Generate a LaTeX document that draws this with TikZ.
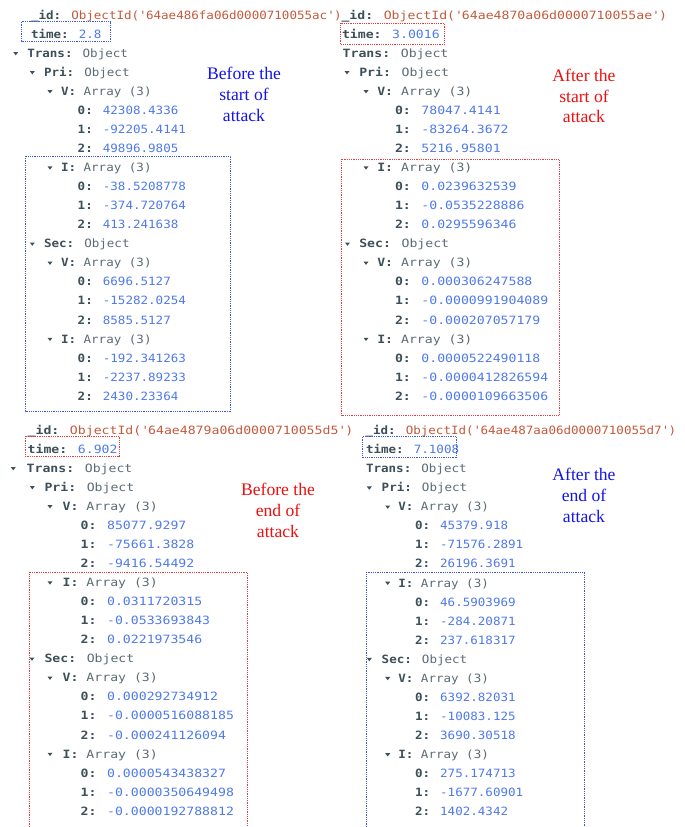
\documentclass[tikz,border=0pt]{standalone}
\usepackage{fontspec}
\newfontfamily\monoNfam[FakeStretch=1.10]{DejaVu Sans Mono}
\newfontfamily\monoWfam[FakeStretch=1.155]{DejaVu Sans Mono}
\newfontfamily\capfam{Liberation Serif}
\newcommand\monoN{\monoNfam\fontsize{11.4}{13}\selectfont}
\newcommand\monoW{\monoWfam\fontsize{11.4}{13}\selectfont}
\newcommand\capfont{\capfam\fontsize{17.6}{21}\selectfont}

\definecolor{keyc}{RGB}{61,79,88}
\definecolor{typec}{RGB}{92,108,117}
\definecolor{numc}{RGB}{80,122,235}
\definecolor{oidc}{RGB}{196,90,60}
\definecolor{boxblue}{RGB}{60,90,225}
\definecolor{boxred}{RGB}{232,60,60}
\definecolor{capblue}{RGB}{20,20,235}
\definecolor{capred}{RGB}{240,15,15}

% document field helpers
\newcommand\dkey[1]{{\bfseries\color{keyc}#1:}}
\newcommand\dtype[1]{{\color{typec}#1}}
\newcommand\dnum[1]{{\color{numc}#1}}
\newcommand\doid[1]{{\color{oidc}ObjectId(\textquotesingle#1\textquotesingle)}}

\tikzset{
  row/.style={anchor=base west, inner sep=0pt, outer sep=0pt},
  caption/.style={anchor=base, inner sep=0pt, font=\capfont},
  dotbox/.style={line width=0.7pt, dash pattern=on 0.9pt off 0.9pt},
  tri/.pic={\fill[keyc] (-2.5pt,5.3pt) -- (2.5pt,5.3pt) -- (0pt,2.0pt) -- cycle;}
}

\begin{document}
\begin{tikzpicture}[x=1pt, y=-1pt]
\useasboundingbox (0,0) rectangle (685,827);
\fill[white] (0,0) rectangle (685,827);

% ---------- document 1 (top left) ----------
\begin{scope}
\clip (0,0) rectangle (340,420);
\begin{scope}[shift={(0pt,-57.3pt)}, y=-19.05pt, font=\monoN, every node/.append style={row}]
\node (a-id) at (31,-2) {\dkey{\_id} \doid{64ae486fa06d0000710055ac}};
\node (a-time) at (31,-1) {\dkey{time} \dnum{2.8}};
\pic at (15.7,0) {tri}; \node (a-trans) at (27.3,0) {\dkey{Trans} \dtype{Object}};
\pic at (32.3,1) {tri}; \node (a-pri) at (44,1) {\dkey{Pri} \dtype{Object}};
\pic at (50,2) {tri}; \node (a-pv) at (61,2) {\dkey{V} \dtype{Array (3)}};
\node (a-pv0) at (77.7,3) {\dkey{0} \dnum{42308.4336}};
\node (a-pv1) at (77.7,4) {\dkey{1} \dnum{-92205.4141}};
\node (a-pv2) at (77.7,5) {\dkey{2} \dnum{49896.9805}};
\pic at (50,6) {tri}; \node (a-pi) at (61,6) {\dkey{I} \dtype{Array (3)}};
\node (a-pi0) at (77.7,7) {\dkey{0} \dnum{-38.5208778}};
\node (a-pi1) at (77.7,8) {\dkey{1} \dnum{-374.720764}};
\node (a-pi2) at (77.7,9) {\dkey{2} \dnum{413.241638}};
\pic at (32.3,10) {tri}; \node (a-sec) at (44,10) {\dkey{Sec} \dtype{Object}};
\pic at (50,11) {tri}; \node (a-sv) at (61,11) {\dkey{V} \dtype{Array (3)}};
\node (a-sv0) at (77.7,12) {\dkey{0} \dnum{6696.5127}};
\node (a-sv1) at (77.7,13) {\dkey{1} \dnum{-15282.0254}};
\node (a-sv2) at (77.7,14) {\dkey{2} \dnum{8585.5127}};
\pic at (50,15) {tri}; \node (a-si) at (61,15) {\dkey{I} \dtype{Array (3)}};
\node (a-si0) at (77.7,16) {\dkey{0} \dnum{-192.341263}};
\node (a-si1) at (77.7,17) {\dkey{1} \dnum{-2237.89233}};
\node (a-si2) at (77.7,18) {\dkey{2} \dnum{2430.23364}};
\end{scope}
\end{scope}
\draw[dotbox, boxblue] (21.7,21.7) rectangle (110,41.7);
\draw[dotbox, boxblue] (25.7,156) rectangle (230.7,411.7);
\node[caption, text=capblue] (cap-a1) at (244,79.5) {Before the};
\node[caption, text=capblue] (cap-a2) at (244,100.5) {start of};
\node[caption, text=capblue] (cap-a3) at (244,121.5) {attack};

% ---------- document 2 (top right) ----------
\begin{scope}[shift={(0pt,-57.3pt)}, y=-19.05pt, font=\monoW, every node/.append style={row}]
\node (b-id) at (341.5,-2) {\dkey{\_id} \doid{64ae4870a06d0000710055ae}};
\node (b-time) at (342,-1) {\dkey{time} \dnum{3.0016}};
\node (b-trans) at (342.7,0) {\dkey{Trans} \dtype{Object}};
\pic at (347,1) {tri}; \node (b-pri) at (359.3,1) {\dkey{Pri} \dtype{Object}};
\pic at (366,2) {tri}; \node (b-pv) at (377.3,2) {\dkey{V} \dtype{Array (3)}};
\node (b-pv0) at (395,3) {\dkey{0} \dnum{78047.4141}};
\node (b-pv1) at (395,4) {\dkey{1} \dnum{-83264.3672}};
\node (b-pv2) at (395,5) {\dkey{2} \dnum{5216.95801}};
\pic at (366,6) {tri}; \node (b-pi) at (377.3,6) {\dkey{I} \dtype{Array (3)}};
\node (b-pi0) at (395,7) {\dkey{0} \dnum{0.0239632539}};
\node (b-pi1) at (395,8) {\dkey{1} \dnum{-0.0535228886}};
\node (b-pi2) at (395,9) {\dkey{2} \dnum{0.0295596346}};
\pic at (347.5,10) {tri}; \node (b-sec) at (359.3,10) {\dkey{Sec} \dtype{Object}};
\pic at (366,11) {tri}; \node (b-sv) at (377.3,11) {\dkey{V} \dtype{Array (3)}};
\node (b-sv0) at (395,12) {\dkey{0} \dnum{0.000306247588}};
\node (b-sv1) at (395,13) {\dkey{1} \dnum{-0.0000991904089}};
\node (b-sv2) at (395,14) {\dkey{2} \dnum{-0.000207057179}};
\pic at (366,15) {tri}; \node (b-si) at (377.3,15) {\dkey{I} \dtype{Array (3)}};
\node (b-si0) at (395,16) {\dkey{0} \dnum{0.0000522490118}};
\node (b-si1) at (395,17) {\dkey{1} \dnum{-0.0000412826594}};
\node (b-si2) at (395,18) {\dkey{2} \dnum{-0.0000109663506}};
\end{scope}
\draw[dotbox, boxred] (340.5,23.3) rectangle (444.5,44);
\draw[dotbox, boxred] (341.7,159.3) rectangle (559,415);
\node[caption, text=capred] (cap-b1) at (584,81.5) {After the};
\node[caption, text=capred] (cap-b2) at (584,102) {start of};
\node[caption, text=capred] (cap-b3) at (584,122.7) {attack};

% ---------- document 3 (bottom left) ----------
\begin{scope}[shift={(0pt,-472.3pt)}, y=-19.05pt, font=\monoW, every node/.append style={row}]
\node (c-id) at (27.7,-2) {\dkey{\_id} \doid{64ae4879a06d0000710055d5}};
\node (c-time) at (27.7,-1) {\dkey{time} \dnum{6.902}};
\pic at (13.3,0) {tri}; \node (c-trans) at (26.7,0) {\dkey{Trans} \dtype{Object}};
\pic at (32.3,1) {tri}; \node (c-pri) at (44.5,1) {\dkey{Pri} \dtype{Object}};
\pic at (50,2) {tri}; \node (c-pv) at (62.7,2) {\dkey{V} \dtype{Array (3)}};
\node (c-pv0) at (80.7,3) {\dkey{0} \dnum{85077.9297}};
\node (c-pv1) at (80.7,4) {\dkey{1} \dnum{-75661.3828}};
\node (c-pv2) at (80.7,5) {\dkey{2} \dnum{-9416.54492}};
\pic at (50,6) {tri}; \node (c-pi) at (62.7,6) {\dkey{I} \dtype{Array (3)}};
\node (c-pi0) at (80.7,7) {\dkey{0} \dnum{0.0311720315}};
\node (c-pi1) at (80.7,8) {\dkey{1} \dnum{-0.0533693843}};
\node (c-pi2) at (80.7,9) {\dkey{2} \dnum{0.0221973546}};
\pic at (32,10) {tri}; \node (c-sec) at (44.5,10) {\dkey{Sec} \dtype{Object}};
\pic at (50,11) {tri}; \node (c-sv) at (62.7,11) {\dkey{V} \dtype{Array (3)}};
\node (c-sv0) at (80.7,12) {\dkey{0} \dnum{0.000292734912}};
\node (c-sv1) at (80.7,13) {\dkey{1} \dnum{-0.0000516088185}};
\node (c-sv2) at (80.7,14) {\dkey{2} \dnum{-0.000241126094}};
\pic at (50,15) {tri}; \node (c-si) at (62.7,15) {\dkey{I} \dtype{Array (3)}};
\node (c-si0) at (80.7,16) {\dkey{0} \dnum{0.0000543438327}};
\node (c-si1) at (80.7,17) {\dkey{1} \dnum{-0.0000350649498}};
\node (c-si2) at (80.7,18) {\dkey{2} \dnum{-0.0000192788812}};
\end{scope}
\draw[dotbox, boxred] (25.7,436) rectangle (119,456.7);
\draw[dotbox, boxred] (29.3,827) -- (29.3,572.3) -- (247.3,572.3) -- (247.3,827);
\node[caption, text=capred] (cap-c1) at (278,495) {Before the};
\node[caption, text=capred] (cap-c2) at (278,516) {end of};
\node[caption, text=capred] (cap-c3) at (278,537) {attack};

% ---------- document 4 (bottom right) ----------
\begin{scope}[shift={(0pt,-472.7pt)}, y=-19.05pt, font=\monoN, every node/.append style={row}]
\node (d-id) at (365.5,-2) {\dkey{\_id} \doid{64ae487aa06d0000710055d7}};
\node (d-time) at (366,-1) {\dkey{time} \dnum{7.1008}};
\node (d-trans) at (366,0) {\dkey{Trans} \dtype{Object}};
\pic at (369.3,1) {tri}; \node (d-pri) at (381.7,1) {\dkey{Pri} \dtype{Object}};
\pic at (387.7,2) {tri}; \node (d-pv) at (398.3,2) {\dkey{V} \dtype{Array (3)}};
\node (d-pv0) at (415,3) {\dkey{0} \dnum{45379.918}};
\node (d-pv1) at (415,4) {\dkey{1} \dnum{-71576.2891}};
\node (d-pv2) at (415,5) {\dkey{2} \dnum{26196.3691}};
\pic at (387.7,6) {tri}; \node (d-pi) at (398.3,6) {\dkey{I} \dtype{Array (3)}};
\node (d-pi0) at (415,7) {\dkey{0} \dnum{46.5903969}};
\node (d-pi1) at (415,8) {\dkey{1} \dnum{-284.20871}};
\node (d-pi2) at (415,9) {\dkey{2} \dnum{237.618317}};
\pic at (369.3,10) {tri}; \node (d-sec) at (381.7,10) {\dkey{Sec} \dtype{Object}};
\pic at (387.7,11) {tri}; \node (d-sv) at (398.3,11) {\dkey{V} \dtype{Array (3)}};
\node (d-sv0) at (415,12) {\dkey{0} \dnum{6392.82031}};
\node (d-sv1) at (415,13) {\dkey{1} \dnum{-10083.125}};
\node (d-sv2) at (415,14) {\dkey{2} \dnum{3690.30518}};
\pic at (387.7,15) {tri}; \node (d-si) at (398.3,15) {\dkey{I} \dtype{Array (3)}};
\node (d-si0) at (415,16) {\dkey{0} \dnum{275.174713}};
\node (d-si1) at (415,17) {\dkey{1} \dnum{-1677.60901}};
\node (d-si2) at (415,18) {\dkey{2} \dnum{1402.4342}};
\end{scope}
\draw[dotbox, boxblue] (362.7,436.7) rectangle (456.7,457.7);
\draw[dotbox, boxblue] (366.7,827) -- (366.7,572.3) -- (584.3,572.3) -- (584.3,827);
\node[caption, text=capblue] (cap-d1) at (584,480) {After the};
\node[caption, text=capblue] (cap-d2) at (584,501.5) {end of};
\node[caption, text=capblue] (cap-d3) at (584,522.5) {attack};
\end{tikzpicture}
\end{document}
